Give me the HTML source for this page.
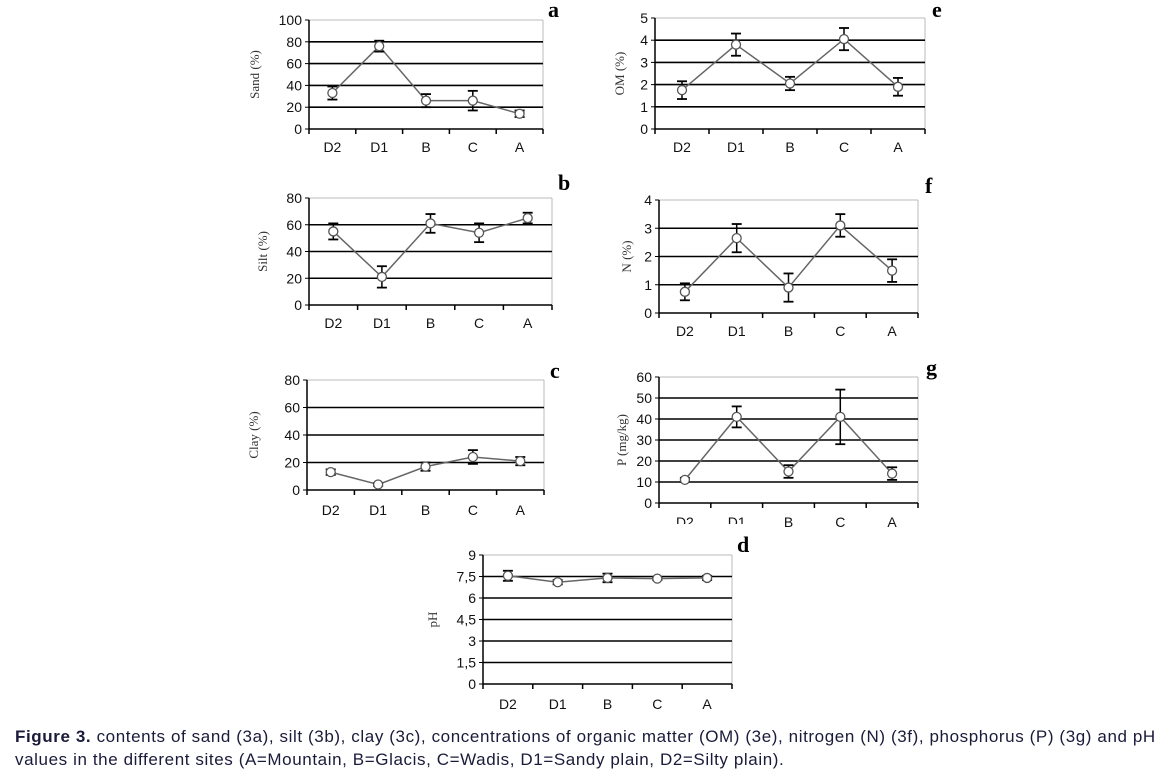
<!DOCTYPE html>
<html><head><meta charset="utf-8"><style>
body{margin:0;background:#fff;width:1175px;height:778px;overflow:hidden;position:relative;font-family:"Liberation Sans",sans-serif}
.cap{position:absolute;left:15px;font-size:17px;letter-spacing:0.6px;color:#1a1a3a;white-space:nowrap}
</style></head><body>
<svg id="s" width="1175" height="778" style="position:absolute;left:0;top:0"></svg>
<div class="cap" style="top:727px"><b>Figure 3.</b> contents of sand (3a), silt (3b), clay (3c), concentrations of organic matter (OM) (3e), nitrogen (N) (3f), phosphorus (P) (3g) and pH</div>
<div class="cap" style="top:750px">values in the different sites (A=Mountain, B=Glacis, C=Wadis, D1=Sandy plain, D2=Silty plain).</div>
<script>
const P=[
{L:309,R:543,T:20,B:129,min:0,max:100,st:20,lab:["0","20","40","60","80","100"],yl:"Sand (%)",off:54,d:[[33,6],[76,5],[26,6],[26,9],[14,3]],let:"a",lx:548,ly:17,xl:152},
{L:309,R:552,T:198,B:305,min:0,max:80,st:20,lab:["0","20","40","60","80"],yl:"Silt (%)",off:46,d:[[55,6],[21,8],[61,7],[54,7],[65,4]],let:"b",lx:558,ly:190,xl:328},
{L:307,R:544,T:380,B:490,min:0,max:80,st:20,lab:["0","20","40","60","80"],yl:"Clay (%)",off:53,d:[[13,2],[4,1],[17,3],[24,5],[21,3]],let:"c",lx:550,ly:378,xl:515},
{L:655,R:925,T:18,B:129,min:0,max:5,st:1,lab:["0","1","2","3","4","5"],yl:"OM (%)",off:35,d:[[1.75,.4],[3.8,.5],[2.05,.3],[4.05,.5],[1.9,.4]],let:"e",lx:932,ly:17,xl:152},
{L:659,R:918,T:200,B:313,min:0,max:4,st:1,lab:["0","1","2","3","4"],yl:"N (%)",off:32,d:[[.75,.3],[2.65,.5],[.9,.5],[3.1,.4],[1.5,.4]],let:"f",lx:925,ly:193,xl:336},
{L:659,R:918,T:377,B:503,min:0,max:60,st:10,lab:["0","10","20","30","40","50","60"],yl:"P (mg/kg)",off:37,d:[[11,1],[41,5],[15,3],[41,13],[14,3]],let:"g",lx:926,ly:375,xl:527},
{L:483,R:732,T:555,B:684,min:0,max:9,st:1.5,lab:["0","1,5","3","4,5","6","7,5","9"],yl:"pH",off:50,d:[[7.55,.35],[7.1,.15],[7.4,.3],[7.35,.1],[7.4,.15]],let:"d",lx:737,ly:552,xl:709}
];
const cats=["D2","D1","B","C","A"];
let h="";
for(const p of P){
 const Y=v=>p.B-(v-p.min)/(p.max-p.min)*(p.B-p.T);
 const w=(p.R-p.L)/5;
 h+=`<line x1="${p.R}" y1="${p.T}" x2="${p.R}" y2="${p.B}" stroke="#bbb"/>`;
 let n=Math.round((p.max-p.min)/p.st);
 for(let i=0;i<=n;i++){const v=p.min+i*p.st,y=Y(v);
  if(i==n)h+=`<line x1="${p.L}" y1="${y}" x2="${p.R}" y2="${y}" stroke="#bbb"/>`;
  else if(i>0)h+=`<line x1="${p.L}" y1="${y}" x2="${p.R}" y2="${y}" stroke="#000" stroke-width="1.6"/>`;
  h+=`<line x1="${p.L-4}" y1="${y}" x2="${p.L}" y2="${y}" stroke="#000"/>`;
  h+=`<text x="${p.L-7}" y="${y+5}" font-size="14" text-anchor="end" fill="#111">${p.lab[i]}</text>`;}
 h+=`<line x1="${p.L}" y1="${p.T}" x2="${p.L}" y2="${p.B}" stroke="#000" stroke-width="1.5"/>`;
 h+=`<line x1="${p.L}" y1="${p.B}" x2="${p.R}" y2="${p.B}" stroke="#000" stroke-width="1.5"/>`;
 for(let i=0;i<=5;i++)h+=`<line x1="${p.L+i*w}" y1="${p.B}" x2="${p.L+i*w}" y2="${p.B+5}" stroke="#000" stroke-width="1.5"/>`;
 const pts=p.d.map((d,i)=>[p.L+(i+.5)*w,Y(d[0])]);
 h+=`<polyline points="${pts.map(q=>q.join(',')).join(' ')}" fill="none" stroke="#666" stroke-width="1.5"/>`;
 p.d.forEach((d,i)=>{const x=pts[i][0],a=Y(d[0]+d[1]),b=Y(d[0]-d[1]);
  h+=`<line x1="${x}" y1="${a}" x2="${x}" y2="${b}" stroke="#000" stroke-width="1.5"/><line x1="${x-5}" y1="${a}" x2="${x+5}" y2="${a}" stroke="#000" stroke-width="1.8"/><line x1="${x-5}" y1="${b}" x2="${x+5}" y2="${b}" stroke="#000" stroke-width="1.8"/>`;
  h+=`<circle cx="${x}" cy="${pts[i][1]}" r="4.5" fill="#fff" stroke="#555" stroke-width="1.3"/>`;
  h+=`<text x="${x}" y="${p.xl}" font-size="14" text-anchor="middle" fill="#111">${cats[i]}</text>`;});
 const cy=(p.T+p.B)/2,cx=p.L-p.off+4;
 h+=`<text transform="translate(${cx},${cy}) rotate(-90)" font-family="Liberation Serif" font-size="13" text-anchor="middle" fill="#333">${p.yl}</text>`;
 h+=`<text x="${p.lx}" y="${p.ly}" font-family="Liberation Serif" font-weight="bold" font-size="22">${p.let}</text>`;
}
h+=`<rect x="440" y="524" width="340" height="12" fill="#fff"/>`;
document.getElementById('s').innerHTML=h;
</script>
</body></html>
